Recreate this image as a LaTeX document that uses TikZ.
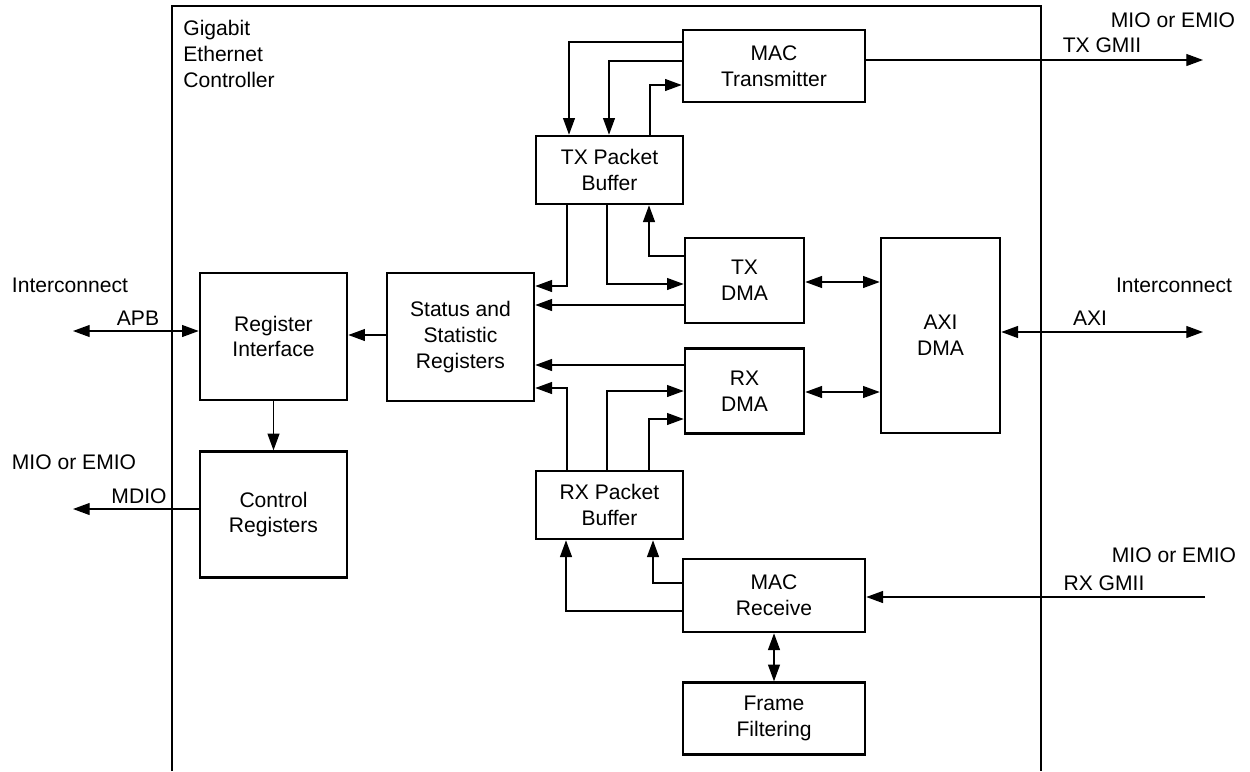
\documentclass[tikz,border=0pt]{standalone}
\usepackage{fontspec}
\setmainfont{Liberation Sans}
\usetikzlibrary{arrows.meta,positioning}

\begin{document}
\begin{tikzpicture}[x=0.02cm,y=-0.02cm,font=\fontsize{12}{14.7}\selectfont,
  blk/.style={draw,line width=1.5pt,align=center,inner sep=0pt},
  wd/.style={minimum width=3.64cm},
  md/.style={minimum width=2.94cm},
  nr/.style={minimum width=2.38cm},
  ar/.style={-{Triangle[length=9.5pt,width=6.8pt]},line width=0.7pt},
  dar/.style={{Triangle[length=9.5pt,width=6.8pt]}-{Triangle[length=9.5pt,width=6.8pt]},line width=0.7pt},
  lbl/.style={inner sep=0pt}]
\useasboundingbox (0,0) rectangle (1250,771);
\draw[line width=1.5pt] (172,771) |- (1041,6) -- (1041,771);
\node[lbl,anchor=north west,align=left] (gem) at (183,20) {Gigabit\\Ethernet\\Controller};
\node[blk,wd,minimum height=1.44cm] (mactx) at (774,66) {MAC\\Transmitter};
\node[blk,md,minimum height=1.36cm] (txbuf) at (609.5,170) {TX Packet\\Buffer};
\node[blk,nr,minimum height=1.7cm] (txdma) at (744.5,280.5) {TX\\DMA};
\node[blk,nr,minimum height=1.7cm,below=0.46cm of txdma] (rxdma) {RX\\DMA};
\node[blk,nr,minimum height=3.9cm] (axidma) at (940.5,335.5) {AXI\\DMA};
\node[blk,md,minimum height=2.56cm] (stat) at (460.5,337) {Status and\\Statistic\\Registers};
\node[blk,md,minimum height=2.54cm] (regif) at (273.5,336.5) {Register\\Interface};
\node[blk,md,minimum height=2.52cm,below=0.98cm of regif] (ctrl) {Control\\Registers};
\node[blk,md,minimum height=1.36cm] (rxbuf) at (609.5,505) {RX Packet\\Buffer};
\node[blk,wd,minimum height=1.46cm] (macrx) at (774,595.5) {MAC\\Receive};
\node[blk,wd,minimum height=1.44cm,below=0.96cm of macrx] (filt) {Frame\\Filtering};

\node[lbl] (icl) at (70,285) {Interconnect};
\node[lbl] (apb) at (138,318) {APB};
\node[lbl] (miol) at (74,462) {MIO or EMIO};
\node[lbl] (mdio) at (139,496) {MDIO};
\node[lbl] (miot) at (1173,20) {MIO or EMIO};
\node[lbl] (txg) at (1102,45) {TX GMII};
\node[lbl] (icr) at (1174,285) {Interconnect};
\node[lbl] (axi) at (1090,318) {AXI};
\node[lbl] (miob) at (1174,555) {MIO or EMIO};
\node[lbl] (rxg) at (1104,583) {RX GMII};

\coordinate (apbend) at (73,331);
\coordinate (mdioend) at (73,509);
\coordinate (txgend) at (1203,60);
\coordinate (axiend) at (1203,332);
\coordinate (rxgend) at (1205,597);

\draw[ar] (mactx.west |- 0,42) -| (569,0 |- txbuf.north);
\draw[ar] (mactx.west |- 0,61) -| (609,0 |- txbuf.north);
\draw[ar] (650,0 |- txbuf.north) |- (mactx.west |- 0,85);
\draw[ar] (567,0 |- txbuf.south) |- (stat.east |- 0,286);
\draw[ar] (607,0 |- txbuf.south) |- (txdma.west |- 0,284);
\draw[ar] (txdma.west |- 0,256) -| (649,0 |- txbuf.south);
\draw[ar] (txdma.west |- 0,305) -- (stat.east |- 0,305);
\draw[dar] (txdma.east |- 0,282) -- (axidma.west |- 0,282);
\draw[ar] (rxdma.west |- 0,365) -- (stat.east |- 0,365);
\draw[ar] (567,0 |- rxbuf.north) |- (stat.east |- 0,388);
\draw[ar] (607,0 |- rxbuf.north) |- (rxdma.west |- 0,391);
\draw[ar] (649,0 |- rxbuf.north) |- (rxdma.west |- 0,419);
\draw[dar] (rxdma.east |- 0,392) -- (axidma.west |- 0,392);
\draw[ar] (macrx.west |- 0,583) -| (653,0 |- rxbuf.south);
\draw[ar] (macrx.west |- 0,611) -| (566,0 |- rxbuf.south);
\draw[dar] (macrx.south) -- (filt.north);
\draw[ar] (stat.west |- 0,335) -- (regif.east |- 0,335);
\draw[ar] (regif.south) -- (ctrl.north);
\draw[dar] (apbend) -- (regif.west |- apbend);
\draw[ar] (ctrl.west |- mdioend) -- (mdioend);
\draw[ar] (mactx.east |- txgend) -- (txgend);
\draw[dar] (axidma.east |- axiend) -- (axiend);
\draw[ar] (rxgend) -- (macrx.east |- rxgend);
\end{tikzpicture}
\end{document}
